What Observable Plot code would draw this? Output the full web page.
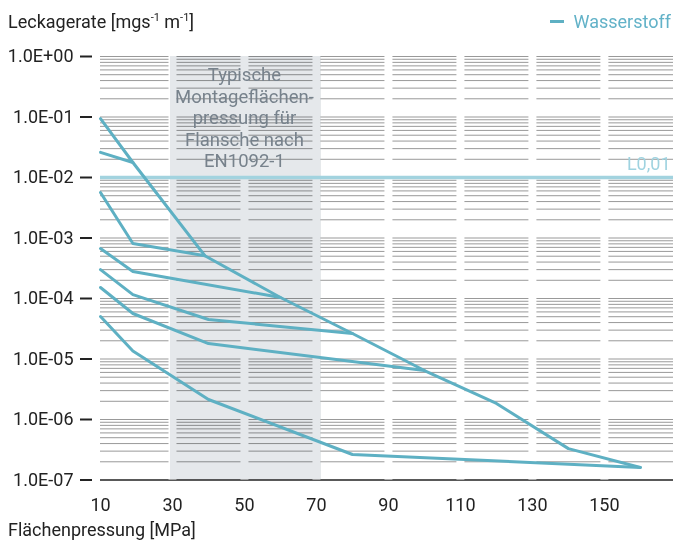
<!DOCTYPE html>
<html><head><meta charset="utf-8">
<script src="https://cdn.jsdelivr.net/npm/d3@7"></script>
<script src="https://cdn.jsdelivr.net/npm/@observablehq/plot@0.6"></script>
<style>
body{margin:0;background:#fff;font-family:Roboto,sans-serif;}
#wrap{position:relative;width:673px;height:542px;overflow:hidden;}
#title{position:absolute;left:8px;top:13px;font-size:18px;line-height:18px;color:#222;white-space:nowrap;}
#title sup{font-size:11px;line-height:0;vertical-align:0;position:relative;top:-7px;}
#legend{position:absolute;right:2px;top:13px;font-size:18px;line-height:18px;color:#62b2c8;white-space:nowrap;}
#legend .sw{display:inline-block;width:14px;height:3px;background:#5eb0c3;vertical-align:middle;margin-right:10px;position:relative;top:-2px;}
#chart{position:absolute;left:0;top:44px;}
#xlabel{position:absolute;left:8px;top:521px;font-size:18px;line-height:18px;color:#222;white-space:nowrap;}
</style>
</head><body>
<div id="wrap">
  <div id="title">Leckagerate [mgs<sup>-1</sup> m<sup>-1</sup>]</div>
  <div id="legend"><span class="sw"></span>Wasserstoff</div>
  <div id="chart"></div>
  <div id="xlabel">Flächenpressung [MPa]</div>
</div>
<script>
// ---- data ----
const seriesName = "Wasserstoff";
const xTicks = [10, 30, 50, 70, 90, 110, 130, 150];
const yTicks = [1, 1e-1, 1e-2, 1e-3, 1e-4, 1e-5, 1e-6, 1e-7];
const bandRange = [30, 70];
const bandText = "Typische\nMontageflächen-\npressung für\nFlansche nach\nEN1092-1";
const limitValue = 0.01;
const limitLabel = "L0,01";

const aP = [10, 19, 39, 60, 80, 100, 120, 140, 160];
const aL = [0.094, 0.0177, 5.1e-4, 1.04e-4, 2.64e-5, 6.45e-6, 1.84e-6, 3.3e-7, 1.61e-7];
const bP = [10, 19, 39, 60, 80, 100, 120, 140, 160];
const bL = [0.026, 0.0177, 5.1e-4, 1.04e-4, 2.64e-5, 6.45e-6, 1.84e-6, 3.3e-7, 1.61e-7];
const cP = [10, 19, 39, 60, 80, 100, 120, 140, 160];
const cL = [5.65e-3, 8.1e-4, 5.1e-4, 1.04e-4, 2.64e-5, 6.45e-6, 1.84e-6, 3.3e-7, 1.61e-7];
const dP = [10, 19, 60, 80, 100, 120, 140, 160];
const dL = [6.7e-4, 2.79e-4, 1.04e-4, 2.64e-5, 6.45e-6, 1.84e-6, 3.3e-7, 1.61e-7];
const eP = [10, 19, 40, 80, 100, 120, 140, 160];
const eL = [3.0e-4, 1.16e-4, 4.5e-5, 2.64e-5, 6.45e-6, 1.84e-6, 3.3e-7, 1.61e-7];
const fP = [10, 19, 40, 100, 120, 140, 160];
const fL = [1.52e-4, 5.65e-5, 1.8e-5, 6.45e-6, 1.84e-6, 3.3e-7, 1.61e-7];
const gP = [10, 19, 40, 80, 160];
const gL = [5.04e-5, 1.36e-5, 2.14e-6, 2.64e-7, 1.61e-7];

const curves = [[aP, aL], [bP, bL], [cP, cL], [dP, dL], [eP, eL], [fP, fL], [gP, gL]];

// draw each shared segment only once (curves coincide after they merge)
const seen = new Set();
const rows = [];
let seg = 0;
curves.forEach(([p, l]) => {
  let run = [];
  for (let j = 0; j < p.length - 1; j++) {
    const key = `${p[j]},${l[j]}-${p[j + 1]},${l[j + 1]}`;
    if (seen.has(key)) {
      if (run.length) { rows.push(...run); run = []; seg++; }
      continue;
    }
    seen.add(key);
    if (!run.length) run.push({seg, x: p[j], y: l[j]});
    run.push({seg, x: p[j + 1], y: l[j + 1]});
  }
  if (run.length) { rows.push(...run); seg++; }
});

const gridTicks = d3.scaleLog().domain([1e-7, 1]).ticks(20).filter(d => d > 1.0001e-7);
const fmt = d => { const e = Math.round(Math.log10(d)); return "1.0E" + (e < 0 ? "-" : "+") + String(Math.abs(e)).padStart(2, "0"); };

const lineColor = "#5eb0c3";

const chart = Plot.plot({
  width: 673,
  height: 480,
  marginTop: 12,
  marginBottom: 44.5,
  marginLeft: 100,
  marginRight: 0,
  style: {fontFamily: "Roboto, sans-serif", fontSize: "18px", color: "#222", background: "#fff"},
  x: {domain: [10, 169.2]},
  y: {type: "log", domain: [1e-7, 1]},
  marks: [
    Plot.ruleY(gridTicks, {stroke: "#999", strokeWidth: 1}),
    Plot.ruleY([1e-7], {stroke: "#222", strokeWidth: 1.6}),
    Plot.ruleX(xTicks.slice(1), {stroke: "#fff", strokeWidth: 8}),
    Plot.rect([bandRange], {x1: d => d[0], x2: d => d[1], fill: "#e5e8eb", mixBlendMode: "multiply", insetLeft: -2, insetRight: -5}),
    Plot.ruleY([limitValue], {stroke: "#a2d3df", strokeWidth: 3.5}),
    Plot.text([limitLabel], {y: [limitValue], text: d => d, frameAnchor: "right", textAnchor: "end", dx: -3, dy: -13, fill: "#9fd3e0", fontSize: 18}),
    Plot.text([bandText], {x: [(bandRange[0] + bandRange[1]) / 2], text: d => d, frameAnchor: "top", lineAnchor: "top", dy: 9, lineHeight: 1.17, fill: "#77828c", fontSize: 18.5}),
    Plot.line(rows, {x: "x", y: "y", z: "seg", stroke: lineColor, strokeWidth: 3, strokeLinejoin: "round", strokeLinecap: "round"}),
    Plot.axisY(yTicks, {tickFormat: fmt, tickSize: 12, tickPadding: 7, dx: -8, strokeWidth: 2, stroke: "#222", fill: "#222", fontSize: 18, label: null}),
    Plot.axisX(xTicks, {tickSize: 0, tickPadding: 18.5, fill: "#222", fontSize: 18, label: null})
  ]
});
document.getElementById("chart").appendChild(chart);
</script>
</body></html>
